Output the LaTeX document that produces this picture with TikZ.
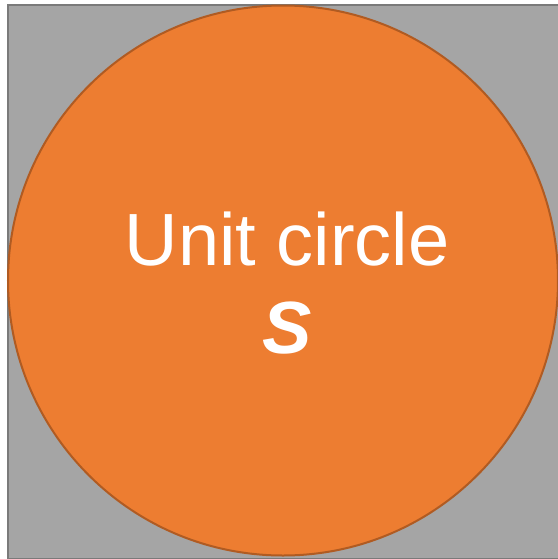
\documentclass[tikz,border=0pt]{standalone}
\usepackage{fontspec}
\setmainfont{Liberation Sans}
\usepackage{tikz}
\usetikzlibrary{positioning}
\definecolor{disc}    {HTML}{ED7D31}
\definecolor{discrim} {HTML}{B05B22}
\definecolor{field}   {HTML}{A5A5A5}
\definecolor{fieldrim}{HTML}{7A7A7A}

\begin{document}
\begin{tikzpicture}[x=0.5pt, y=-0.5pt, font=\fontsize{37}{44}\selectfont]
      \useasboundingbox (0,0) rectangle (558,559);
      \node[draw=fieldrim, fill=field, line width=1pt, minimum width=280pt, minimum height=277pt, inner sep=0pt, anchor=north west] (sq) at (7.5,3.5) {};
      \node[circle, draw=discrim, fill=disc, line width=1pt, minimum size=275pt, inner sep=0pt] (s) at (283,280.5) {};
      \node[text=white, anchor=base, inner sep=0pt] (lbl) at (287,265) {Unit circle};
      \node[text=white, anchor=base, inner sep=0pt] (sym) at (287,353) {\textbf{\textit{S}}};
    \end{tikzpicture}
\end{document}
